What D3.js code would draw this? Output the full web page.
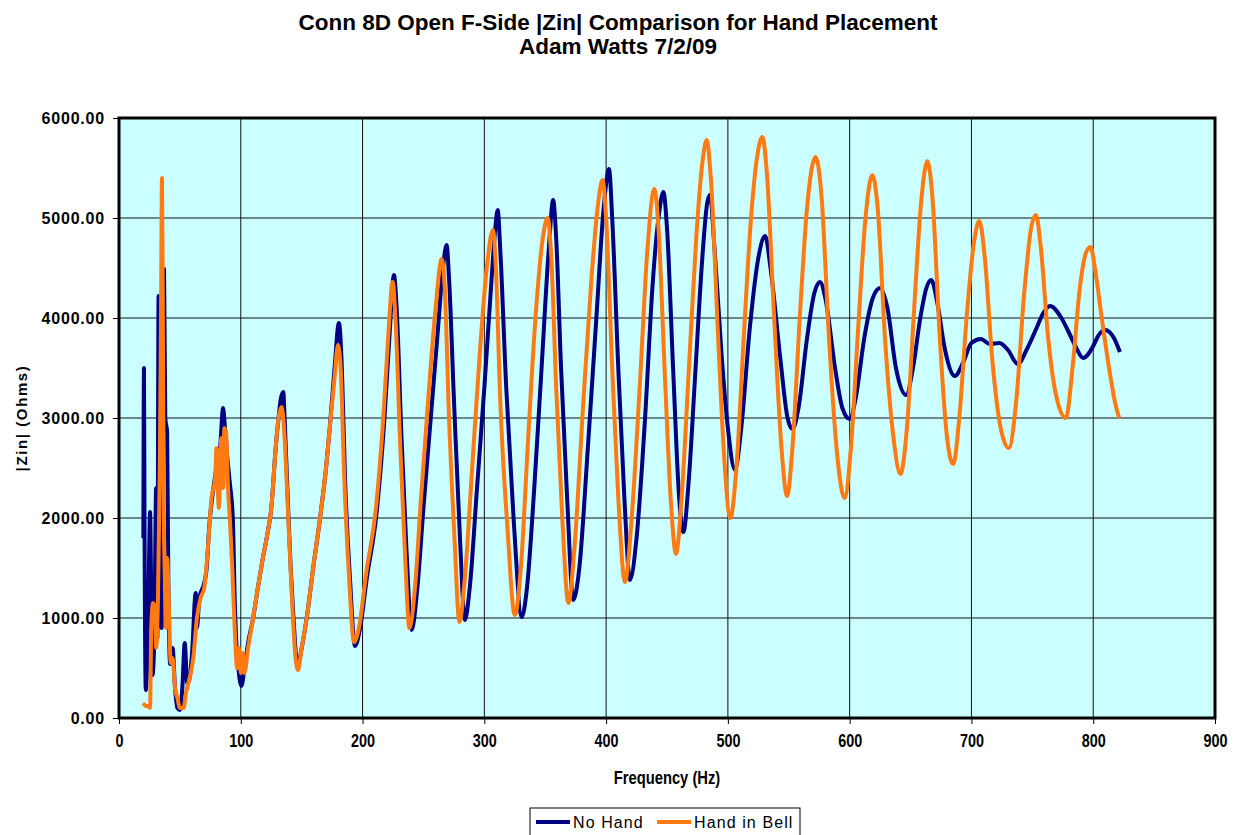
<!DOCTYPE html>
<html>
<head>
<meta charset="utf-8">
<script src="https://cdn.jsdelivr.net/npm/d3@7"></script>
<style>
  body { margin: 0; background: #fff; }
  svg { display: block; font-family: Arial, "Liberation Sans", sans-serif; }
</style>
</head>
<body>
<svg id="chart" width="1235" height="835"></svg>
<script>
// Frequency (Hz) / |Zin| (Ohms)
const noHandFreq = [20, 20.5, 21, 22, 24, 25.5, 26.5, 27.5, 29, 30.5, 31.5, 32.5, 33.5, 35, 37, 38, 39.5, 40.5, 42, 44, 46, 48, 50, 52, 54, 56, 58, 60, 63, 64, 66, 70, 72, 74, 77, 80, 83, 85.5, 87, 89, 91, 93.5, 95, 96.5, 98, 100.5, 103, 106, 110, 114, 118, 122, 125, 128.6, 131, 133, 134.9, 136, 139, 141, 143, 146.7, 150, 154, 160, 165, 170, 173, 177, 180.6, 183, 185.6, 189.7, 193.8, 198, 203.4, 211.6, 218, 222, 225.8, 228, 232, 236, 240.3, 245, 250, 256, 262, 266, 269, 271, 275, 280, 284, 288, 294, 300, 306, 309, 311, 313, 318, 324, 330.7, 335, 341, 347, 353, 356.5, 359, 363, 368, 373, 378, 385, 392, 398, 402.4, 405, 410, 415, 419.6, 425, 432, 438, 443, 447, 450, 455, 460, 463.4, 468, 473, 479, 483, 485.3, 489, 495, 500, 505.8, 511, 518, 525, 530.6, 535, 543, 549, 553, 558, 565, 571, 575.6, 580, 588, 594, 600, 605, 612, 619, 625, 631, 638, 646.4, 652, 658, 663, 667, 672, 678, 686.4, 693, 700, 707.8, 715, 723, 730, 738, 746, 753.5, 759, 764.5, 772.9, 779.8, 785.3, 791.7, 800, 804, 809.7, 817, 821.9];
const noHandZin = [1800, 3500, 1800, 280, 1000, 2060, 1200, 430, 800, 2300, 800, 4220, 2000, 900, 4490, 3000, 2860, 1400, 540, 700, 300, 100, 80, 300, 750, 350, 400, 650, 1250, 900, 1200, 1350, 1500, 1900, 2250, 2500, 2700, 3100, 2900, 2600, 2350, 1990, 1200, 720, 500, 320, 500, 750, 990, 1300, 1590, 1850, 2090, 2690, 3000, 3200, 3260, 3000, 2060, 1500, 1060, 520, 700, 990, 1550, 1990, 2500, 2890, 3500, 3950, 3500, 2400, 1390, 720, 900, 1390, 2060, 3000, 3800, 4430, 4100, 2800, 1700, 880, 1300, 2100, 3000, 3900, 4500, 4730, 4400, 3200, 1800, 980, 1300, 2300, 3300, 4400, 4900, 5080, 4700, 3300, 2000, 1010, 1300, 2300, 3500, 4700, 5180, 4800, 3500, 2200, 1180, 1500, 2700, 4000, 5100, 5490, 5000, 3500, 2200, 1380, 1800, 3000, 4300, 5000, 5260, 4900, 3500, 2200, 1860, 2400, 3400, 4600, 5150, 5230, 4700, 3600, 2900, 2480, 2900, 3900, 4600, 4820, 4500, 3600, 3000, 2890, 3100, 3800, 4250, 4360, 4200, 3500, 3100, 2990, 3200, 3800, 4200, 4300, 4100, 3500, 3230, 3500, 4000, 4300, 4380, 4150, 3700, 3420, 3550, 3750, 3790, 3740, 3750, 3680, 3540, 3700, 3900, 4050, 4120, 4020, 3860, 3720, 3600, 3720, 3820, 3880, 3800, 3660];

const handFreq = [20, 22, 24, 25.5, 26.5, 28, 29.5, 30.5, 32, 33.5, 34.5, 35.3, 36, 36.8, 37.5, 38.5, 39.5, 41, 42.5, 44, 46, 48, 50, 53, 55, 58, 61, 64, 67, 70, 73, 76, 79, 80, 82, 84, 85.5, 86.5, 88, 89.5, 91, 93, 95, 97, 98.5, 100, 101.5, 103, 106, 110, 114, 118, 122, 125, 128.6, 131, 133.6, 135.5, 139, 142, 145, 147, 150, 154, 160, 165, 170, 173, 177, 179.8, 182, 185, 189, 193, 197, 203, 211, 217, 221, 224.7, 227, 231, 235, 238.4, 243, 248, 254, 260, 265, 267.5, 271, 275.5, 279.5, 284, 290, 296, 302, 307, 309.5, 313, 319, 325, 330, 336, 342, 348, 352, 355, 359, 364, 369, 374, 381, 388, 393, 397, 400, 405, 410, 415.5, 421, 428, 434, 439.6, 443, 448, 453, 457.4, 462, 468, 474, 479, 482.5, 486, 492, 497, 502, 507, 513, 519, 524.5, 528.3, 532, 538, 544, 548.6, 553, 559, 565, 572, 577, 583, 590, 595.8, 601, 607, 613, 618.6, 623, 629, 636, 641.7, 647, 653, 659, 663.9, 668, 674, 680, 685, 690, 696, 702, 706.4, 711, 717, 724, 730.7, 737, 743, 749, 752.9, 757, 763, 770, 777.6, 783, 789, 794, 797.8, 802, 807, 813, 818, 821.3];
const handZin = [150, 120, 120, 100, 900, 1150, 1100, 700, 1200, 2500, 4000, 5400, 4000, 2000, 1500, 900, 1600, 1100, 550, 600, 300, 200, 100, 100, 250, 400, 600, 1000, 1200, 1300, 1700, 2200, 2400, 2700, 2100, 2800, 2300, 2900, 2850, 2300, 2000, 1500, 900, 500, 700, 450, 650, 450, 700, 990, 1300, 1590, 1850, 2090, 2690, 3000, 3110, 2900, 2000, 1200, 600, 480, 700, 990, 1550, 1990, 2500, 2890, 3400, 3730, 3500, 2400, 1390, 760, 900, 1450, 2100, 3000, 3800, 4360, 4000, 2700, 1600, 900, 1300, 2200, 3200, 4100, 4590, 4300, 3000, 1800, 960, 1400, 2500, 3600, 4500, 4880, 4500, 3200, 1900, 1030, 1500, 2800, 4000, 4800, 5000, 4600, 3300, 2000, 1150, 1700, 3100, 4400, 5100, 5380, 5000, 3500, 2200, 1360, 2000, 3400, 4700, 5290, 4900, 3500, 2200, 1640, 2200, 3500, 4800, 5550, 5780, 5400, 3800, 2600, 2000, 2500, 3800, 5000, 5650, 5810, 5450, 4000, 2700, 2220, 2700, 4000, 5100, 5610, 5200, 3800, 2600, 2200, 2700, 3900, 5000, 5430, 5100, 3800, 2800, 2440, 2900, 4100, 5200, 5570, 5200, 3800, 2800, 2540, 3000, 4000, 4750, 4970, 4600, 3600, 2900, 2700, 3200, 4200, 4900, 5030, 4700, 3800, 3200, 3000, 3500, 4300, 4650, 4710, 4450, 4000, 3500, 3150, 3000];

const seriesNames = ["No Hand", "Hand in Bell"];
const seriesColors = ["#000080", "#ff7a12"];
const xTicks = [0, 100, 200, 300, 400, 500, 600, 700, 800, 900];
const yTicks = [0, 1000, 2000, 3000, 4000, 5000, 6000];

const series = [
    { name: seriesNames[0], color: seriesColors[0], points: noHandFreq.map((f, i) => [f, noHandZin[i]]) },
    { name: seriesNames[1], color: seriesColors[1], points: handFreq.map((f, i) => [f, handZin[i]]) }
];

const margin = { top: 118, right: 20, bottom: 117, left: 119 };
const width = 1235 - margin.left - margin.right;
const height = 835 - margin.top - margin.bottom;

const svg = d3.select('#chart');

// title
svg.append('text')
    .attr('x', 618).attr('y', 30)
    .attr('text-anchor', 'middle')
    .style('font', 'bold 22.5px Arial, "Liberation Sans", sans-serif')
    .text('Conn 8D Open F-Side |Zin| Comparison for Hand Placement');
svg.append('text')
    .attr('x', 618).attr('y', 54)
    .attr('text-anchor', 'middle')
    .style('font', 'bold 22.5px Arial, "Liberation Sans", sans-serif')
    .text('Adam Watts 7/2/09');

const g = svg.append('g')
    .attr('transform', `translate(${margin.left},${margin.top})`);

const x = d3.scaleLinear().domain([0, 900]).range([0, width]);
const y = d3.scaleLinear().domain([0, 6000]).range([height, 0]);

// plot background
g.append('rect')
    .attr('width', width).attr('height', height)
    .attr('fill', '#ccffff');

// grid lines
g.append('g')
    .selectAll('line')
    .data(yTicks.slice(1, -1))
    .join('line')
    .attr('x1', 0).attr('x2', width)
    .attr('y1', d => y(d)).attr('y2', d => y(d))
    .attr('stroke', '#111').attr('stroke-width', 1);
g.append('g')
    .selectAll('line')
    .data(xTicks.slice(1, -1))
    .join('line')
    .attr('y1', 0).attr('y2', height)
    .attr('x1', d => x(d)).attr('x2', d => x(d))
    .attr('stroke', '#111').attr('stroke-width', 1);

// axes
const xAxis = d3.axisBottom(x).tickValues(xTicks).tickSize(6).tickPadding(10).tickFormat(d3.format('d'));
const yAxis = d3.axisLeft(y).tickValues(yTicks).tickSize(6).tickPadding(8).tickFormat(d3.format('.2f'));

g.append('g')
    .attr('transform', `translate(0,${height})`)
    .call(xAxis)
    .call(a => a.select('.domain').remove())
    .call(a => a.selectAll('line').attr('stroke', '#000'))
    .call(a => a.selectAll('text')
        .attr('fill', '#000')
        .attr('transform', 'scale(0.8,1)')
        .style('font', 'bold 18px Arial, "Liberation Sans", sans-serif'));

g.append('g')
    .call(yAxis)
    .call(a => a.select('.domain').remove())
    .call(a => a.selectAll('line').attr('stroke', '#000'))
    .call(a => a.selectAll('text')
        .attr('fill', '#000')
        .style('font', 'bold 16px Arial, "Liberation Sans", sans-serif')
        .style('letter-spacing', '0.8px'));

// lines
const line = d3.line()
    .x(d => x(d[0]))
    .y(d => y(d[1]))
    .curve(d3.curveMonotoneX);

g.append('g')
    .selectAll('path')
    .data(series)
    .join('path')
    .attr('fill', 'none')
    .attr('stroke', d => d.color)
    .attr('stroke-width', 4)
    .attr('stroke-linejoin', 'round')
    .attr('d', d => line(d.points));

// plot border
g.append('rect')
    .attr('width', width).attr('height', height)
    .attr('fill', 'none')
    .attr('stroke', '#000').attr('stroke-width', 3);

// axis labels
svg.append('text')
    .attr('transform', `translate(${margin.left + width / 2},784) scale(0.82,1)`)
    .attr('text-anchor', 'middle')
    .style('font', 'bold 18px Arial, "Liberation Sans", sans-serif')
    .text('Frequency (Hz)');

svg.append('text')
    .attr('transform', `translate(27,${margin.top + height / 2}) rotate(-90)`)
    .attr('text-anchor', 'middle')
    .style('font', 'bold 15px Arial, "Liberation Sans", sans-serif')
    .style('letter-spacing', '1.6px')
    .text('|Zin| (Ohms)');

// legend
const legend = svg.append('g').attr('transform', 'translate(530,808)');
legend.append('rect')
    .attr('width', 270).attr('height', 30)
    .attr('fill', '#fff')
    .attr('stroke', '#000').attr('stroke-width', 1);

const item = legend.selectAll('g.item')
    .data(series)
    .join('g')
    .attr('class', 'item')
    .attr('transform', (d, i) => `translate(${6 + i * 121},0)`);
item.append('line')
    .attr('x1', 0).attr('x2', 34)
    .attr('y1', 14).attr('y2', 14)
    .attr('stroke', d => d.color)
    .attr('stroke-width', 4);
item.append('text')
    .attr('x', 37).attr('y', 20)
    .style('font', '16px Arial, "Liberation Sans", sans-serif')
    .style('letter-spacing', '1.1px')
    .text(d => d.name);
</script>
</body>
</html>
